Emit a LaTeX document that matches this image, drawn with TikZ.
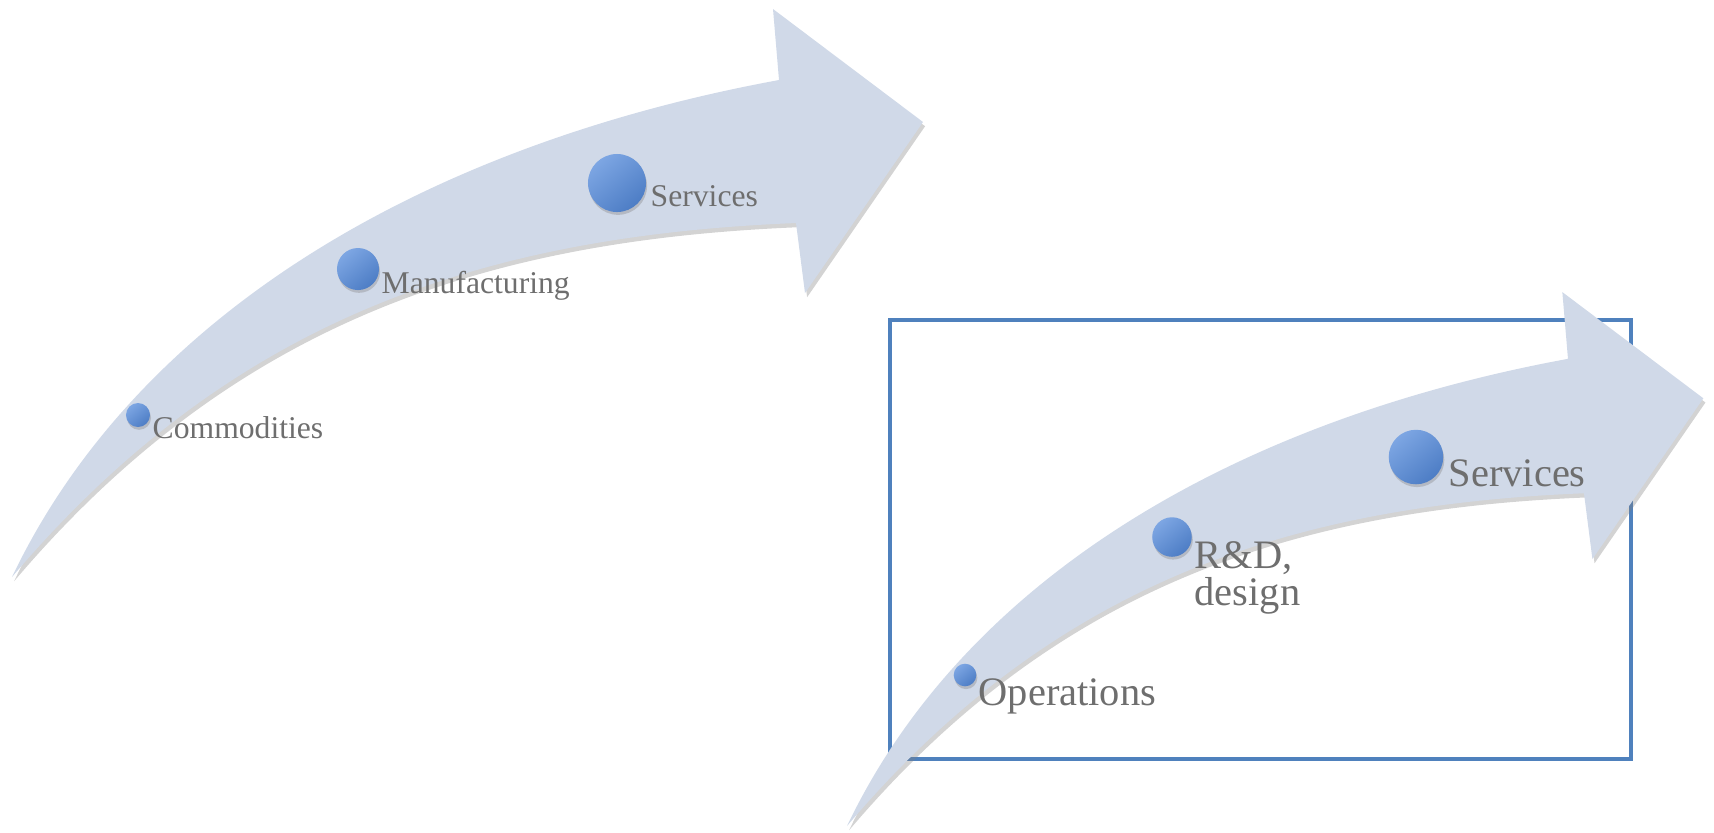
\documentclass[tikz,border=0pt]{standalone}
\usepackage{fontspec}
\setmainfont{Liberation Serif}
\usetikzlibrary{shadows}
\definecolor{arrowfill}{HTML}{D0D9E8}
\definecolor{dotlight}{HTML}{7DA6E3}
\definecolor{dotdark}{HTML}{4D7DC5}
\definecolor{labelgray}{HTML}{6E6E6E}
\definecolor{framecolor}{HTML}{4F81BD}
% curved arrow, tail at the origin, in pixel units
\newcommand{\curvedarrow}{(0,0) .. controls (129,-270) and (424,-434) .. (767,-497)
  -- (761,-568) -- (911,-455) -- (793,-284) -- (784,-354)
  .. controls (468,-341) and (218,-257) .. cycle}
\tikzset{
  shaft/.style={fill=arrowfill, drop shadow={shadow xshift=0.6pt, shadow yshift=-1.2pt, opacity=0.35}},
  dot/.style={circle, inner sep=0pt, top color=dotlight, bottom color=dotdark, shading angle=40,
    drop shadow={shadow xshift=0.3pt, shadow yshift=-0.8pt, opacity=0.35}},
  stage/.style={anchor=base west, inner sep=0pt, text=labelgray, font=\fontsize{9}{9}\selectfont},
  bigstage/.style={stage, font=\fontsize{11.5}{10.5}\selectfont},
  frame/.style={draw=framecolor, line width=1pt}
}
\begin{document}
\begin{tikzpicture}[x=0.01cm, y=-0.01cm]
\useasboundingbox (0,0) rectangle (1714,832);
% first arrow
\begin{scope}[shift={(12,577)}]
  \fill[shaft] \curvedarrow;
\end{scope}
\node[dot, minimum size=0.24cm] (com) at (138,415) {};
\node[dot, minimum size=0.42cm] (man) at (358,269) {};
\node[dot, minimum size=0.58cm] (srv1) at (617,183) {};
\node[stage] (tcom) at (152,438) {Commodities};
\node[stage] (tman) at (381,293) {Manufacturing};
\node[stage] (tsrv1) at (650,206) {Services};
% second arrow in its frame
\draw[frame] (890,320) rectangle (1631,759);
\begin{scope}[shift={(847,826)}, scale=0.94]
  \fill[shaft] \curvedarrow;
\end{scope}
\node[dot, minimum size=0.226cm] (ops) at (965,675) {};
\node[dot, minimum size=0.395cm] (rnd) at (1172,537) {};
\node[dot, minimum size=0.545cm] (srv2) at (1416,457) {};
\node[bigstage] (tops) at (978,705) {Operations};
\node[bigstage, anchor=north west, align=left] (trnd) at (1194,541) {R\&D,\\design};
\node[bigstage] (tsrv2) at (1448,486) {Services};
\end{tikzpicture}
\end{document}
